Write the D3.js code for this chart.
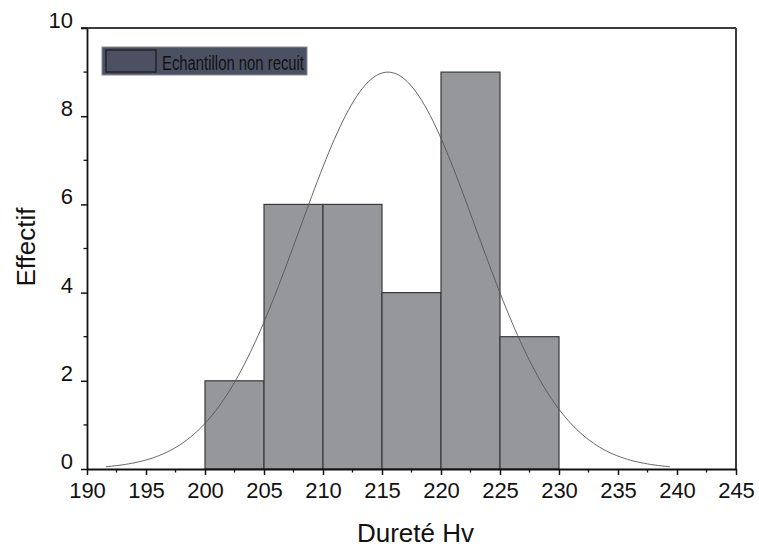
<!DOCTYPE html>
<html>
<head>
<meta charset="utf-8">
<script src="https://cdn.jsdelivr.net/npm/d3@7"></script>
<style>
  body { margin: 0; background: #fff; }
  svg { display: block; font-family: "Liberation Sans", Arial, sans-serif; }
</style>
</head>
<body>
<div id="chart"></div>
<script>
// histogram bins (Dureté Hv) and counts
var binStarts = [200, 205, 210, 215, 220, 225];
var binWidth = 5;
var counts = [2, 6, 6, 4, 9, 3];

// fitted normal curve parameters
var fitMean = 215.5;
var fitSigma = 7.45;
var fitPeak = 9;
var fitRange = [191.6, 239.4];

var xTicks = [190, 195, 200, 205, 210, 215, 220, 225, 230, 235, 240, 245];
var yTicks = [0, 2, 4, 6, 8, 10];
var legendLabel = "Echantillon non recuit";

var width = 759;
var height = 547;
var margin = { top: 28, right: 23, bottom: 78, left: 87 };

var svg = d3.select("#chart").append("svg")
    .attr("width", width)
    .attr("height", height);

var x = d3.scaleLinear()
    .domain([190, 245])
    .range([margin.left, width - margin.right]);

var y = d3.scaleLinear()
    .domain([0, 10])
    .range([height - margin.bottom, margin.top]);

// bars
svg.selectAll("rect.bar")
    .data(binStarts)
    .enter().append("rect")
    .attr("class", "bar")
    .attr("x", function(d) { return x(d); })
    .attr("y", function(d, i) { return y(counts[i]); })
    .attr("width", function(d) { return x(d + binWidth) - x(d); })
    .attr("height", function(d, i) { return y(0) - y(counts[i]); })
    .attr("fill", "#96979b")
    .attr("stroke", "#3a3a3a")
    .attr("stroke-width", 1.2);

// gaussian fit line
var curvePts = d3.range(0, 201).map(function(i) {
    var xv = fitRange[0] + (fitRange[1] - fitRange[0]) * i / 200;
    var z = (xv - fitMean) / fitSigma;
    return [xv, fitPeak * Math.exp(-0.5 * z * z)];
});
svg.append("path")
    .datum(curvePts)
    .attr("fill", "none")
    .attr("stroke", "#555")
    .attr("stroke-width", 0.9)
    .attr("d", d3.line()
        .x(function(d) { return x(d[0]); })
        .y(function(d) { return y(d[1]); })
        .curve(d3.curveLinear));

// frame (top + right)
svg.append("line")
    .attr("x1", x(190) - 6).attr("x2", x(245))
    .attr("y1", y(10)).attr("y2", y(10))
    .attr("stroke", "#3c3c3c").attr("stroke-width", 2);
svg.append("line")
    .attr("x1", x(245)).attr("x2", x(245))
    .attr("y1", y(10)).attr("y2", y(0))
    .attr("stroke", "#3c3c3c").attr("stroke-width", 2);

// x axis
var xAxis = svg.append("g")
    .attr("transform", "translate(0," + y(0) + ")")
    .call(d3.axisBottom(x).tickValues(xTicks).tickSize(6).tickSizeOuter(0).tickPadding(7));
xAxis.select(".domain").attr("stroke", "#111").attr("stroke-width", 1.8);
xAxis.selectAll(".tick line").attr("stroke", "#111").attr("stroke-width", 1.5);
xAxis.selectAll(".tick text").attr("font-size", 22).attr("fill", "#111")
    .attr("font-family", "Liberation Sans, Arial, sans-serif");

var xMinor = d3.range(192.5, 245, 5);
xAxis.selectAll("line.minor")
    .data(xMinor)
    .enter().append("line")
    .attr("class", "minor")
    .attr("x1", function(d) { return x(d); })
    .attr("x2", function(d) { return x(d); })
    .attr("y1", 0).attr("y2", 3.5)
    .attr("stroke", "#111").attr("stroke-width", 1.3);

// y axis
var yAxis = svg.append("g")
    .attr("transform", "translate(" + x(190) + ",0)")
    .call(d3.axisLeft(y).tickValues(yTicks).tickSize(6).tickSizeOuter(0).tickPadding(8));
yAxis.select(".domain").attr("stroke", "#111").attr("stroke-width", 1.8);
yAxis.selectAll(".tick line").attr("stroke", "#111").attr("stroke-width", 1.5);
yAxis.selectAll(".tick text").attr("font-size", 22).attr("fill", "#111")
    .attr("dy", "-0.02em")
    .attr("font-family", "Liberation Sans, Arial, sans-serif");

var yMinor = [1, 3, 5, 7, 9];
yAxis.selectAll("line.minor")
    .data(yMinor)
    .enter().append("line")
    .attr("class", "minor")
    .attr("x1", -3.5).attr("x2", 0)
    .attr("y1", function(d) { return y(d); })
    .attr("y2", function(d) { return y(d); })
    .attr("stroke", "#111").attr("stroke-width", 1.3);

// axis titles
svg.append("text")
    .attr("x", (x(190) + x(245)) / 2 + 4)
    .attr("y", 542)
    .attr("text-anchor", "middle")
    .attr("font-size", 26)
    .attr("fill", "#111")
    .text("Dureté Hv");

svg.append("text")
    .attr("transform", "translate(35," + 247 + ") rotate(-90)")
    .attr("text-anchor", "middle")
    .attr("font-size", 26)
    .attr("fill", "#111")
    .text("Effectif");

// legend
var legend = svg.append("g");
legend.append("rect")
    .attr("x", 102).attr("y", 47)
    .attr("width", 205).attr("height", 28)
    .attr("fill", "#4b5163")
    .attr("stroke", "#8a8e99").attr("stroke-width", 1);
legend.append("rect")
    .attr("x", 106).attr("y", 50)
    .attr("width", 50).attr("height", 22)
    .attr("fill", "#4b5163")
    .attr("stroke", "#1a1a1a").attr("stroke-width", 1.2);
legend.append("text")
    .attr("x", 162).attr("y", 70)
    .attr("font-size", 20)
    .attr("fill", "#111")
    .attr("textLength", 142)
    .attr("lengthAdjust", "spacingAndGlyphs")
    .text(legendLabel);
</script>
</body>
</html>
